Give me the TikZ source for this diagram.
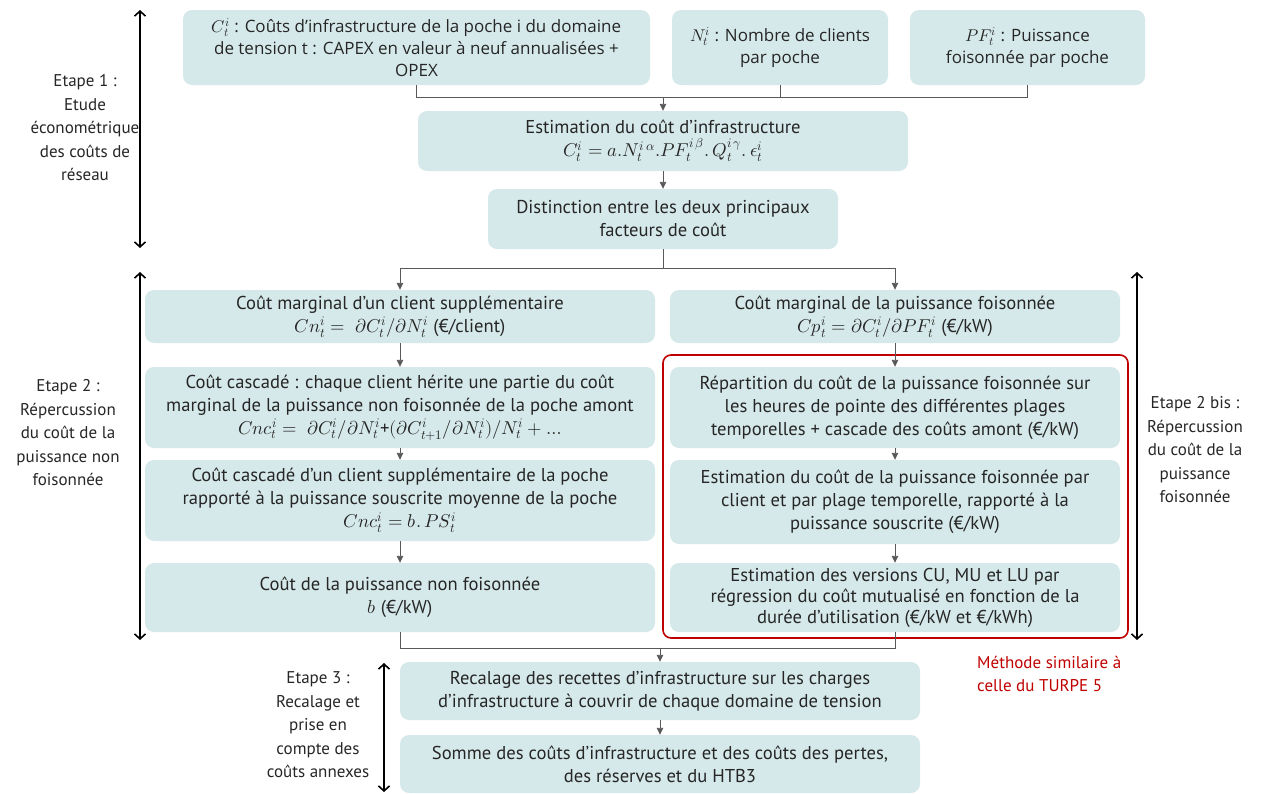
\documentclass[tikz,border=0pt]{standalone}
\usepackage{fontspec}
\usepackage{unicode-math}
\setmainfont{PT Sans}
\setmathfont{Latin Modern Math}
\newfontfamily\topfont{Open Sans}
\usetikzlibrary{arrows.meta,calc}
\definecolor{boxfill}{HTML}{D6E9EA}
\definecolor{redline}{HTML}{C00000}
\definecolor{txt}{HTML}{262626}
\begin{document}
\begin{tikzpicture}[x=1pt,y=-1pt,
  box/.style={fill=boxfill, rounded corners=9pt, draw=none, align=center, inner sep=0pt,
    font=\fontsize{18.6}{23}\selectfont, text=txt},
  topbox/.style={box, font=\topfont\fontsize{17}{22}\selectfont},
  conn/.style={draw=black!65, line width=0.9pt},
  arr/.style={conn, -{Triangle[length=7pt,width=6.5pt]}},
  sidearrow/.style={draw=black, line width=1.6pt, {Straight Barb[length=5pt,width=11pt]}-{Straight Barb[length=5pt,width=11pt]}},
  sidelabel/.style={align=center, text=txt, font=\fontsize{17}{23.5}\selectfont, inner sep=0pt},
]
\useasboundingbox (0,0) rectangle (1269,793);

% top row
\node[topbox, minimum width=467pt, minimum height=75pt] (A) at (416.5,47.5)
  {$C_t^i$ : Coûts d’infrastructure de la poche i du domaine\\de tension t : CAPEX en valeur à neuf annualisées +\\OPEX};
\node[topbox, minimum width=216pt, minimum height=75pt] (B) at (780,47.5)
  {$N_t^i$ : Nombre de clients\\par poche};
\node[topbox, minimum width=235pt, minimum height=75pt] (C) at (1027.5,47.5)
  {$PF_t^i$ : Puissance\\foisonnée par poche};

\node[box, minimum width=490pt, minimum height=60pt] (D) at (663,141)
  {Estimation du coût d’infrastructure\\$C_t^i = a.N_t^{i\,\alpha}.PF_t^{i\,\beta}.\,Q_t^{i\,\gamma}.\,\epsilon_t^i$};
\node[box, minimum width=350pt, minimum height=60pt] (E) at (663,219)
  {Distinction entre les deux principaux\\facteurs de coût};

% left column
\node[box, minimum width=510pt, minimum height=53pt] (L1) at (400,316.5)
  {Coût marginal d’un client supplémentaire\\$Cn_t^i =\ \partial C_t^i/\partial N_t^i$ (€/client)};
\node[box, minimum width=510pt, minimum height=81pt] (L2) at (400,407.5)
  {Coût cascadé : chaque client hérite une partie du coût\\marginal de la puissance non foisonnée de la poche amont\\$Cnc_t^i =\ \partial C_t^i/\partial N_t^i$+$(\partial C_{t+1}^i/\partial N_t^i)/N_t^i + \ldots$};
\node[box, minimum width=510pt, minimum height=81pt] (L3) at (400,500.5)
  {Coût cascadé d’un client supplémentaire de la poche\\rapporté à la puissance souscrite moyenne de la poche\\$Cnc_t^i = b.\,PS_t^i$};
\node[box, minimum width=510pt, minimum height=69pt] (L4) at (400,597.5)
  {Coût de la puissance non foisonnée\\$b$ (€/kW)};

% right column
\node[box, minimum width=450pt, minimum height=53pt] (R1) at (895,316.5)
  {Coût marginal de la puissance foisonnée\\$Cp_t^i = \partial C_t^i/\partial PF_t^i$ (€/kW)};
\node[box, minimum width=450pt, minimum height=81pt] (R2) at (895,407.5)
  {Répartition du coût de la puissance foisonnée sur\\les heures de pointe des différentes plages\\temporelles + cascade des coûts amont (€/kW)};
\node[box, minimum width=450pt, minimum height=84pt] (R3) at (895,502)
  {Estimation du coût de la puissance foisonnée par\\client et par plage temporelle, rapporté à la\\puissance souscrite (€/kW)};
\node[box, minimum width=450pt, minimum height=69pt, font=\fontsize{18.6}{21}\selectfont] (R4) at (895,597.5)
  {Estimation des versions CU, MU et LU par\\régression du coût mutualisé en fonction de la\\durée d’utilisation (€/kW et €/kWh)};

\draw[redline, line width=1.6pt, rounded corners=8pt] (663,355) rectangle (1128,638);

% bottom
\node[box, minimum width=520pt, minimum height=58pt] (F) at (660,691)
  {Recalage des recettes d’infrastructure sur les charges\\d’infrastructure à couvrir de chaque domaine de tension};
\node[box, minimum width=520pt, minimum height=58pt] (G) at (660,764)
  {Somme des coûts d’infrastructure et des coûts des pertes,\\des réserves et du HTB3};

% connectors
\coordinate (bus1) at (0,97);
\coordinate (bus2) at (0,268);
\coordinate (bus3) at (0,648);
\draw[conn] (A.south) -- (A.south |- bus1) -- (C.south |- bus1) -- (C.south);
\draw[conn] (B.south) -- (B.south |- bus1);
\draw[arr] (D.north |- bus1) -- (D.north);
\draw[arr] (D.south) -- (E.north);
\draw[conn] (E.south) -- (E.south |- bus2);
\draw[arr] (E.south |- bus2) -| (L1.north);
\draw[arr] (E.south |- bus2) -| (R1.north);
\draw[arr] (L1.south) -- (L2.north);
\draw[arr] (L2.south) -- (L3.north);
\draw[arr] (L3.south) -- (L4.north);
\draw[arr] (R1.south) -- (R2.north);
\draw[arr] (R2.south) -- (R3.north);
\draw[arr] (R3.south) -- (R4.north);
\draw[conn] (L4.south) -- (L4.south |- bus3) -- (R4.south |- bus3) -- (R4.south);
\draw[arr] (F.north |- bus3) -- (F.north);
\draw[arr] (F.south) -- (G.north);

% side annotations
\coordinate (s1a) at (140,10);  \coordinate (s1b) at (140,248);
\coordinate (s2a) at (140,272); \coordinate (s2b) at (140,640);
\coordinate (s3a) at (1137,272); \coordinate (s3b) at (1137,640);
\coordinate (s4a) at (384,663); \coordinate (s4b) at (384,792);
\draw[sidearrow] (s1a) -- (s1b);
\draw[sidearrow] (s2a) -- (s2b);
\draw[sidearrow] (s3a) -- (s3b);
\draw[sidearrow] (s4a) -- (s4b);

\node[sidelabel] (E1) at (85,128) {Etape 1 :\\Etude\\économétrique\\des coûts de\\réseau};
\node[sidelabel] (E2) at (68,433) {Etape 2 :\\Répercussion\\du coût de la\\puissance non\\foisonnée};
\node[sidelabel] (E2b) at (1195,450) {Etape 2 bis :\\Répercussion\\du coût de la\\puissance\\foisonnée};
\node[sidelabel] (E3) at (318,725) {Etape 3 :\\Recalage et\\prise en\\compte des\\coûts annexes};
\node[sidelabel, align=left, anchor=west, text=redline] (M) at (977,674) {Méthode similaire à\\celle du TURPE 5};
\end{tikzpicture}
\end{document}
